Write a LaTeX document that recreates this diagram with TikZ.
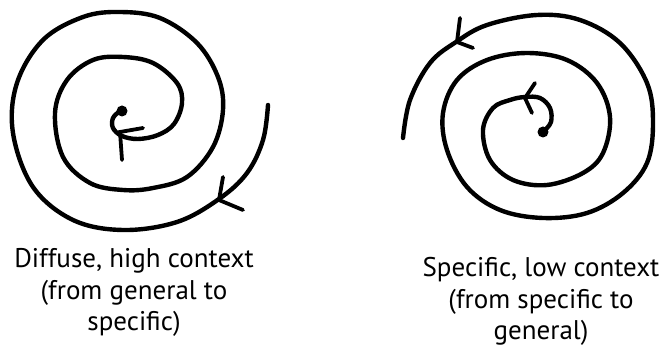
\documentclass[tikz,border=0pt]{standalone}
\usepackage{fontspec}
\setmainfont{PT Sans}
\begin{document}
\begin{tikzpicture}[x=0.5pt,y=-0.5pt,
		spiral/.style={line width=2.2pt,line cap=round,line join=round},
		barb/.style={line width=1.9pt,line cap=round,line join=miter},
		caption/.style={align=center,anchor=north,inner sep=0pt,font=\fontsize{13.5}{15.8}\selectfont}]
	\useasboundingbox (0,0) rectangle (671,352);
	
	% diffuse: spiral inwards
	\draw[spiral] plot[smooth,tension=0.6] coordinates {(268,105) (263,140) (247,173) (219,199) (177,222) (123,230) (73,220) (33,187) (13,133) (17,83) (43,40) (83,17) (120,12) (160,18) (197,43) (218,77) (223,110) (213,147) (187,177) (153,188) (123,190) (90,183) (63,157) (55,113) (67,80) (93,60) (123,57) (153,63) (177,83) (182,103) (174,124) (158,135) (138,139) (122,136) (113,128) (113,118) (120,111)};
	\fill (122,111) circle (5.5);
	\draw[barb] (223,177) -- (219,200) -- (243,210);
	\draw[barb] (143,128) -- (120,132) -- (122,160);
	
	% specific: spiral outwards
	\draw[spiral] plot[smooth,tension=0.6] coordinates {(403,138) (410,100) (430,63) (456,42) (487,25) (537,15) (580,20) (620,43) (647,83) (653,123) (647,163) (623,193) (587,213) (543,218) (500,210) (467,187) (447,150) (443,113) (457,80) (487,60) (527,53) (567,60) (597,83) (610,117) (603,153) (583,173) (547,185) (513,180) (490,160) (483,130) (493,108) (510,100) (525,97) (540,98) (550,108) (551,122) (544,131)};
	\fill (543,132) circle (5.5);
	\draw[barb] (460,18) -- (457,42) -- (473,48);
	\draw[barb] (535,83) -- (525,98) -- (532,113);
	
	\node[caption] (difftxt) at (134,248) {Diffuse, high context\\(from general to\\specific)};
	\node[caption] (spectxt) at (541,257) {Specific, low context\\(from specific to\\general)};
\end{tikzpicture}
\end{document}
